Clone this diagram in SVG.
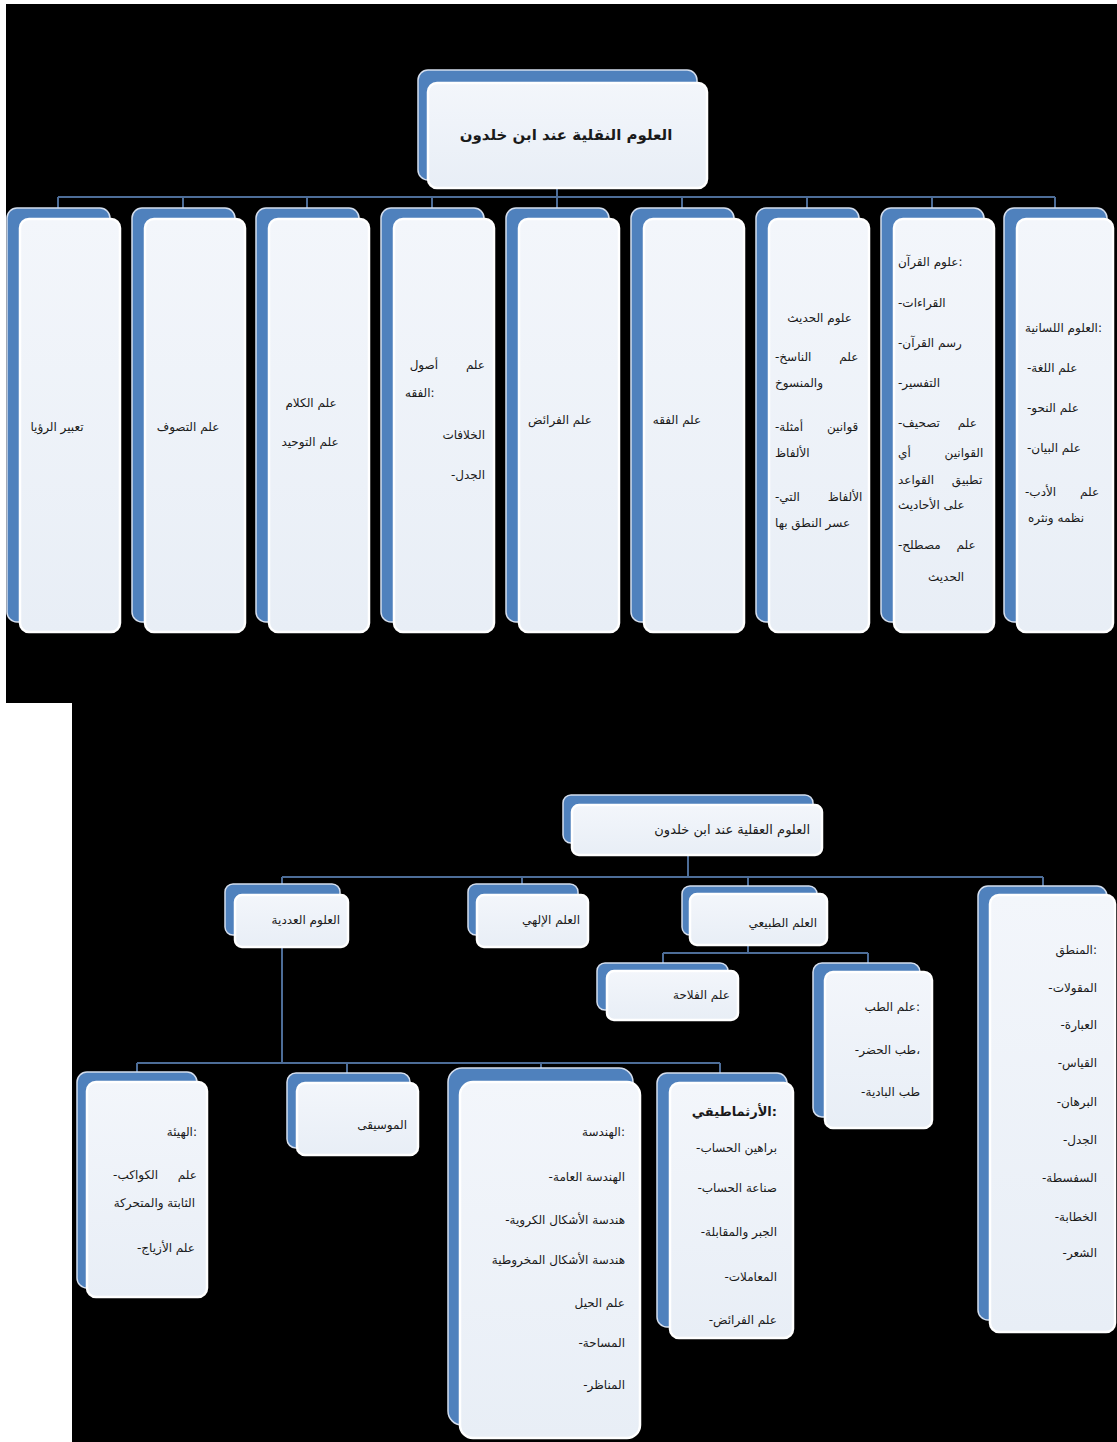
<svg xmlns="http://www.w3.org/2000/svg" width="1117" height="1442" viewBox="0 0 1117 1442">
<defs>
<linearGradient id="fg" x1="0" y1="0" x2="0" y2="1">
<stop offset="0" stop-color="#F3F6FB"/>
<stop offset="1" stop-color="#E8EEF6"/>
</linearGradient>
<style>
.bk{fill:#4F81BD;stroke:#D4DEEE;stroke-width:1.5}
.fr{fill:url(#fg);stroke:#FFFFFF;stroke-width:2.5}
.cn{stroke:#4D6D98;stroke-width:2;fill:none}
.t{font-family:"DejaVu Sans",sans-serif;font-size:12px;fill:#1A1A1A}
.e{text-anchor:end}
.m{text-anchor:middle}
.s{text-anchor:start}
.b{font-weight:bold}
</style>
</defs>
<rect x="0" y="0" width="1117" height="1442" fill="#FFFFFF"/>
<path d="M6 4H1117V1442H72V703H6Z" fill="#000000"/>

<g id="connectors">
<path class="cn" d="M557 188V197M58 197H1055M58 197V208M183 197V208M307 197V208M432 197V208M557 197V208M682 197V208M807 197V208M932 197V208M1055 197V208"/>
<path class="cn" d="M688 855V877M282 877H1043M282 877V885M522 877V885M748 877V887M1043 877V887"/>
<path class="cn" d="M748 945V953M663 953H868M663 953V964M868 953V964"/>
<path class="cn" d="M282 947V1063M137 1063H720M137 1063V1073M347 1063V1075M541 1063V1070M720 1063V1075"/>
</g>

<g id="top-root">
<rect class="bk" x="418" y="70" width="279" height="110" rx="10"/>
<rect class="fr" x="428" y="83" width="279" height="105" rx="9"/>
<text class="t b m" x="566" y="140" style="font-size:15px">العلوم النقلية عند ابن خلدون</text>
</g>

<g id="n-ruya">
<rect class="bk" x="7" y="208" width="103" height="414" rx="10"/>
<rect class="fr" x="20" y="219" width="100" height="413" rx="9"/>
<text class="t m" x="57" y="431">تعبير الرؤيا</text>
</g>
<g id="n-tasawwuf">
<rect class="bk" x="132" y="208" width="103" height="414" rx="10"/>
<rect class="fr" x="145" y="219" width="100" height="413" rx="9"/>
<text class="t m" x="188" y="431">علم التصوف</text>
</g>
<g id="n-kalam">
<rect class="bk" x="256" y="208" width="103" height="414" rx="10"/>
<rect class="fr" x="269" y="219" width="100" height="413" rx="9"/>
<text class="t m" x="311" y="407">علم الكلام</text>
<text class="t m" x="310" y="446">علم التوحيد</text>
</g>
<g id="n-usul">
<rect class="bk" x="381" y="208" width="103" height="414" rx="10"/>
<rect class="fr" x="394" y="219" width="100" height="413" rx="9"/>
<text class="t e" x="485" y="369" word-spacing="24">علم أصول</text>
<text class="t s" x="405" y="397">الفقه:</text>
<text class="t e" x="485" y="439">الخلافات</text>
<text class="t e" x="485" y="479">-الجدل</text>
</g>
<g id="n-faraid">
<rect class="bk" x="506" y="208" width="103" height="414" rx="10"/>
<rect class="fr" x="519" y="219" width="100" height="413" rx="9"/>
<text class="t m" x="560" y="424">علم الفرائض</text>
</g>
<g id="n-fiqh">
<rect class="bk" x="631" y="208" width="103" height="414" rx="10"/>
<rect class="fr" x="644" y="219" width="100" height="413" rx="9"/>
<text class="t m" x="677" y="424">علم الفقه</text>
</g>
<g id="n-hadith">
<rect class="bk" x="756" y="208" width="103" height="414" rx="10"/>
<rect class="fr" x="769" y="219" width="100" height="413" rx="9"/>
<text class="t e" x="852" y="322">علوم الحديث</text>
<text class="t s" x="775" y="361" word-spacing="24">-علم الناسخ</text>
<text class="t s" x="775" y="387">والمنسوخ</text>
<text class="t s" x="775" y="431" word-spacing="20">-قوانين أمثلة</text>
<text class="t s" x="775" y="457">الألفاظ</text>
<text class="t s" x="775" y="501" word-spacing="24">-الألفاظ التي</text>
<text class="t s" x="775" y="527">عسر النطق بها</text>
</g>
<g id="n-quran">
<rect class="bk" x="881" y="208" width="103" height="414" rx="10"/>
<rect class="fr" x="894" y="219" width="100" height="413" rx="9"/>
<text class="t s" x="898" y="266">علوم القرآن:</text>
<text class="t s" x="898" y="307">-القراءات</text>
<text class="t s" x="898" y="347">-رسم القرآن</text>
<text class="t s" x="898" y="387">-التفسير</text>
<text class="t s" x="898" y="427" word-spacing="14">-علم تصحيف</text>
<text class="t s" x="898" y="457" word-spacing="30">القوانين أي</text>
<text class="t s" x="898" y="484" word-spacing="14">تطبيق القواعد</text>
<text class="t s" x="898" y="509">على الأحاديث</text>
<text class="t s" x="898" y="549" word-spacing="12">-علم مصطلح</text>
<text class="t s" x="928" y="581">الحديث</text>
</g>
<g id="n-lisan">
<rect class="bk" x="1004" y="208" width="103" height="414" rx="10"/>
<rect class="fr" x="1017" y="219" width="96" height="413" rx="9"/>
<text class="t s" x="1025" y="332">العلوم اللسانية:</text>
<text class="t s" x="1027" y="372">-علم اللغة</text>
<text class="t s" x="1027" y="412">-علم النحو</text>
<text class="t s" x="1027" y="452">-علم البيان</text>
<text class="t s" x="1025" y="496" word-spacing="20">-علم الأدب</text>
<text class="t s" x="1028" y="522">نظمه ونثره</text>
</g>

<g id="bottom-root">
<rect class="bk" x="563" y="795" width="250" height="48" rx="8"/>
<rect class="fr" x="572" y="805" width="250" height="50" rx="7"/>
<text class="t e" x="810" y="834" style="font-size:13px">العلوم العقلية عند ابن خلدون</text>
</g>
<g id="n-adadiya">
<rect class="bk" x="225" y="884" width="115" height="51" rx="8"/>
<rect class="fr" x="235" y="895" width="113" height="52" rx="7"/>
<text class="t e" x="340" y="924">العلوم العددية</text>
</g>
<g id="n-ilahi">
<rect class="bk" x="468" y="884" width="110" height="51" rx="8"/>
<rect class="fr" x="477" y="895" width="111" height="52" rx="7"/>
<text class="t e" x="580" y="924">العلم الإلهي</text>
</g>
<g id="n-tabii">
<rect class="bk" x="682" y="886" width="135" height="49" rx="8"/>
<rect class="fr" x="690" y="894" width="137" height="51" rx="7"/>
<text class="t e" x="817" y="927">العلم الطبيعي</text>
</g>
<g id="n-mantiq">
<rect class="bk" x="978" y="886" width="129" height="434" rx="10"/>
<rect class="fr" x="990" y="895" width="125" height="437" rx="9"/>
<text class="t e" x="1097" y="954">المنطق:</text>
<text class="t e" x="1097" y="992">-المقولات</text>
<text class="t e" x="1097" y="1029">-العبارة</text>
<text class="t e" x="1097" y="1067">-القياس</text>
<text class="t e" x="1097" y="1106">-البرهان</text>
<text class="t e" x="1097" y="1144">-الجدل</text>
<text class="t e" x="1097" y="1182">-السفسطة</text>
<text class="t e" x="1097" y="1221">-الخطابة</text>
<text class="t e" x="1097" y="1257">-الشعر</text>
</g>
<g id="n-filaha">
<rect class="bk" x="597" y="963" width="131" height="47" rx="8"/>
<rect class="fr" x="607" y="971" width="131" height="49" rx="7"/>
<text class="t e" x="730" y="999">علم الفلاحة</text>
</g>
<g id="n-tibb">
<rect class="bk" x="813" y="963" width="107" height="154" rx="9"/>
<rect class="fr" x="825" y="972" width="107" height="156" rx="8"/>
<text class="t e" x="920" y="1011">علم الطب:</text>
<text class="t e" x="920" y="1054">-طب الحضر،</text>
<text class="t e" x="920" y="1096">-طب البادية</text>
</g>
<g id="n-haya">
<rect class="bk" x="77" y="1072" width="120" height="216" rx="10"/>
<rect class="fr" x="87" y="1082" width="120" height="215" rx="9"/>
<text class="t e" x="197" y="1136">الهيئة:</text>
<text class="t e" x="197" y="1179" word-spacing="16">-علم الكواكب</text>
<text class="t e" x="195" y="1207">الثابتة والمتحركة</text>
<text class="t e" x="195" y="1252">-علم الأزياج</text>
</g>
<g id="n-musiqa">
<rect class="bk" x="287" y="1073" width="123" height="75" rx="9"/>
<rect class="fr" x="297" y="1083" width="121" height="72" rx="8"/>
<text class="t e" x="407" y="1129">الموسيقى</text>
</g>
<g id="n-handasa">
<rect class="bk" x="448" y="1068" width="185" height="357" rx="14"/>
<rect class="fr" x="460" y="1082" width="180" height="356" rx="13"/>
<text class="t e" x="625" y="1136">الهندسة:</text>
<text class="t e" x="625" y="1181">-الهندسة العامة</text>
<text class="t e" x="625" y="1224">-هندسة الأشكال الكروية</text>
<text class="t e" x="625" y="1264">هندسة الأشكال المخروطية</text>
<text class="t e" x="625" y="1307">علم الحيل</text>
<text class="t e" x="625" y="1347">-المساحة</text>
<text class="t e" x="625" y="1389">-المناظر</text>
</g>
<g id="n-arithmetic">
<rect class="bk" x="657" y="1073" width="130" height="254" rx="10"/>
<rect class="fr" x="670" y="1083" width="123" height="255" rx="9"/>
<text class="t e b" x="777" y="1116" style="font-size:13px">الأرثماطيقي:</text>
<text class="t e" x="777" y="1152">-براهين الحساب</text>
<text class="t e" x="777" y="1192">-صناعة الحساب</text>
<text class="t e" x="777" y="1236">-الجبر والمقابلة</text>
<text class="t e" x="777" y="1281">-المعاملات</text>
<text class="t e" x="777" y="1324">-علم الفرائض</text>
</g>
</svg>
